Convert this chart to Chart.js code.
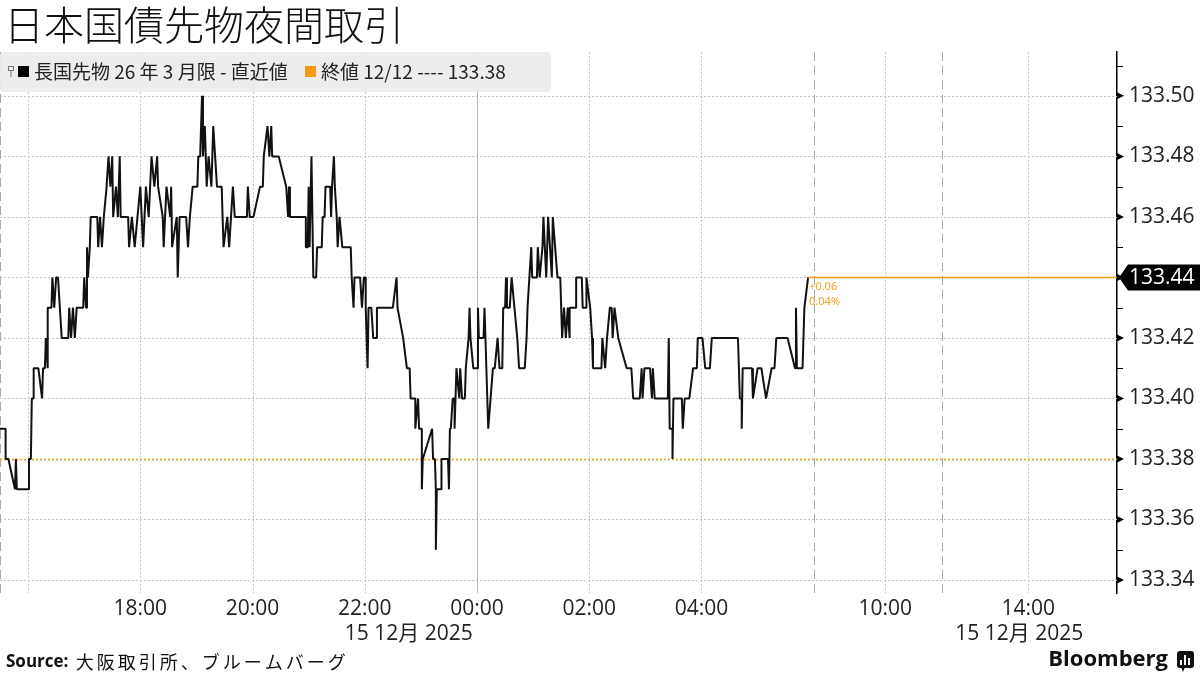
<!DOCTYPE html>
<html><head><meta charset="utf-8">
<script src="https://cdn.jsdelivr.net/npm/chart.js@4.4.1/dist/chart.umd.min.js"></script>
<style>html,body{margin:0;padding:0;background:#fff;}canvas{display:block;}</style>
</head><body>
<canvas id="c" width="1200" height="675" style="width:1200px;height:675px"></canvas>
<script>
// ---- data (minutes since night-session open 15:30, price) ----
const times = [
  0,6,6,9,16,17,18,21,31,31,
  33,34,36,36,41,45,46,48,49,51,
  51,55,56,58,60,62,66,73,74,76,
  78,80,82,89,90,92,93,94,96,97,
  104,105,107,109,111,114,116,118,120,121,
  124,126,128,129,133,137,138,141,144,147,
  150,153,156,159,162,165,168,169,174,175,
  178,182,183,184,189,190,192,196,199,201,
  203,206,211,212,214,216,217,219,221,223,
  226,228,232,237,238,239,243,245,247,249,
  251,264,265,267,271,278,281,282,286,288,
  290,291,298,306,308,309,310,321,
  327,327,329,330,331,333,335,338,339,344,
  345,347,348,353,354,355,357,358,360,361,
  363,366,371,375,376,378,379,385,387,389,
  391,391,393,394,397,399,402,403,420,424,
  425,431,435,438,439,444,444,447,448,451,
  451,452,462,463,465,466,466,467,472,472,
  479,480,481,482,484,486,486,488,491,492,
  494,497,498,501,502,503,506,510,511,512,
  517,518,522,527,529,532,534,537,538,540,
  541,542,545,547,550,553,555,561,563,564,
  568,569,574,575,577,
  580,581,584,586,588,590,591,596,599,600,
  601,603,605,607,609,609,616,616,622,623,
  627,627,631,633,634,643,644,647,649,652,
  654,655,657,661,670,675,677,684,686,687,
  689,695,697,698,700,714,715,716,719,719,
  720,729,730,732,737,741,745,746,751,754,
  759,761,789,790,791,793,793,794,804,805,
  810,814,819,825,828,830,842,850,851,852,
  858,860,864
];
const prices = [
  133.39,133.39,133.38,133.38,133.37,133.38,133.37,133.37,133.37,133.38,
  133.38,133.40,133.40,133.41,133.41,133.40,133.41,133.41,133.42,133.41,
  133.43,133.43,133.44,133.43,133.44,133.44,133.42,133.42,133.43,133.42,
  133.43,133.42,133.43,133.43,133.44,133.43,133.45,133.44,133.45,133.46,
  133.46,133.45,133.46,133.45,133.46,133.47,133.48,133.47,133.48,133.46,
  133.47,133.46,133.48,133.46,133.46,133.46,133.45,133.46,133.45,133.46,
  133.47,133.45,133.47,133.46,133.48,133.47,133.48,133.47,133.46,133.45,
  133.47,133.46,133.47,133.45,133.46,133.44,133.46,133.46,133.46,133.45,
  133.46,133.47,133.47,133.48,133.48,133.50,133.48,133.49,133.47,133.48,
  133.47,133.49,133.47,133.47,133.46,133.45,133.46,133.45,133.46,133.47,
  133.46,133.46,133.47,133.46,133.46,133.47,133.47,133.48,133.49,133.48,
  133.49,133.48,133.48,133.47,133.46,133.47,133.46,133.46,
  133.46,133.45,133.45,133.47,133.45,133.48,133.44,133.44,133.45,133.45,
  133.46,133.46,133.47,133.47,133.46,133.47,133.48,133.47,133.46,133.45,
  133.46,133.45,133.45,133.45,133.44,133.43,133.44,133.44,133.43,133.44,
  133.44,133.43,133.41,133.43,133.43,133.42,133.42,133.43,133.43,133.44,
  133.43,133.42,133.41,133.41,133.40,133.40,133.39,133.40,133.39,133.39,
  133.37,133.38,133.39,133.38,133.38,133.37,133.35,133.37,133.37,133.38,
  133.38,133.37,133.39,133.39,133.40,133.40,133.39,133.41,133.40,133.41,
  133.40,133.40,133.41,133.42,133.43,133.42,133.41,133.41,133.43,133.42,
  133.42,133.43,133.39,133.41,133.41,133.42,133.41,133.41,133.43,133.43,
  133.44,133.43,133.43,133.44,133.43,133.42,133.41,133.41,133.42,133.43,
  133.45,133.44,133.44,133.45,133.44,
  133.45,133.46,133.44,133.46,133.45,133.44,133.46,133.44,133.44,133.43,
  133.42,133.43,133.42,133.43,133.42,133.43,133.43,133.44,133.44,133.43,
  133.43,133.44,133.43,133.42,133.41,133.41,133.42,133.41,133.42,133.43,
  133.43,133.42,133.43,133.42,133.41,133.41,133.40,133.40,133.41,133.40,
  133.41,133.41,133.40,133.41,133.40,133.40,133.42,133.39,133.39,133.38,
  133.40,133.40,133.39,133.40,133.40,133.41,133.41,133.42,133.42,133.41,
  133.41,133.42,133.42,133.41,133.40,133.40,133.39,133.41,133.41,133.40,
  133.41,133.41,133.40,133.41,133.41,133.42,133.42,133.41,133.43,133.41,
  133.41,133.43,133.44
];
const prevClose = 133.38;
const prevCloseDate = '12/12';
const seriesName = '長国先物 26 年 3 月限 - 直近値';

// ---- axis labels ----
const xTickLabels = ['18:00','20:00','22:00','00:00','02:00','04:00','10:00','14:00'];
const xTickSessions = ['night','night','night','night','night','night','day','day'];
const dateLabel = '15 12月 2025';
const dateLabelAt = [['22:47','night'], ['13:45','day']];
const yTicks = [133.34,133.36,133.38,133.40,133.42,133.44,133.46,133.48,133.50];
const yMinorTicks = [133.35,133.37,133.39,133.41,133.43,133.45,133.47,133.49,133.51];
const gridDotted = [['16:00','night'],['18:00','night'],['20:00','night'],['22:00','night'],['02:00','night'],['04:00','night'],['10:00','day'],['14:00','day']];
const gridSolid = [['00:00','night']];
const gridDashed = [['15:30','night'],['06:00','night'],['11:36','day']];

// ---- compressed time axis: night session 15:30-06:00, then day session from 08:00 ----
const DAY_SCALE = 0.637;
function axisPos(hhmm, sess){
  const [h,m] = hhmm.split(':').map(Number);
  const mins = h*60+m;
  if (sess === 'night'){ let d = mins - (15*60+30); if (d < 0) d += 1440; return d; }
  return axisPos('06:00','night') + (mins - 8*60) * DAY_SCALE;
}
const X_MAX = axisPos('16:29','day');
const Y_MIN = 133.3357, Y_MAX = 133.5145;

const ORANGE = '#F39B12';
const NUMFONT = "'Open Sans', 'Noto Sans CJK JP', sans-serif";
const JPFONT = "'Noto Sans CJK JP', 'Open Sans', sans-serif";

const points = times.map((t,i)=>({x:t, y:prices[i]}));

function seg(ctx,x1,y1,x2,y2){ctx.beginPath();ctx.moveTo(x1,y1);ctx.lineTo(x2,y2);ctx.stroke();}

const deco = {
  id:'deco',
  beforeDatasetsDraw(chart){
    const {ctx, chartArea:a, scales:{x,y}} = chart;
    ctx.save();
    ctx.lineWidth = 1;
    ctx.strokeStyle = '#c4c4c4'; ctx.setLineDash([2,2]);
    yTicks.forEach(v=>{const py=Math.round(y.getPixelForValue(v))+0.5; seg(ctx,a.left,py,a.right,py);});
    gridDotted.forEach(([t,s])=>{const px=Math.round(x.getPixelForValue(axisPos(t,s)))+0.5; seg(ctx,px,a.top,px,a.bottom);});
    ctx.setLineDash([]); ctx.strokeStyle='#b5b5b5';
    gridSolid.forEach(([t,s])=>{const px=Math.round(x.getPixelForValue(axisPos(t,s)))+0.5; seg(ctx,px,a.top,px,a.bottom);});
    ctx.setLineDash([9,5]); ctx.strokeStyle='#aaaaaa';
    gridDashed.forEach(([t,s])=>{const px=Math.max(0.5,Math.round(x.getPixelForValue(axisPos(t,s)))+0.5); seg(ctx,px,a.top,px,a.bottom);});
    // previous close dotted line
    ctx.setLineDash([2,2]); ctx.strokeStyle=ORANGE; ctx.lineWidth=1.6;
    const pc = Math.round(y.getPixelForValue(prevClose))+0.5;
    seg(ctx,a.left,pc,a.right,pc);
    ctx.restore();
  },
  afterDatasetsDraw(chart){
    const {ctx, chartArea:a, scales:{x,y}} = chart;
    const last = prices[prices.length-1];
    const lx = x.getPixelForValue(times[times.length-1]);
    const ly = Math.round(y.getPixelForValue(last))+0.5;
    ctx.save();
    ctx.setLineDash([]);
    ctx.strokeStyle=ORANGE; ctx.lineWidth=1.3;
    seg(ctx,lx,ly,a.right,ly);
    const chg = last - prevClose;
    ctx.fillStyle=ORANGE; ctx.font="11px "+NUMFONT; ctx.textBaseline='middle'; ctx.textAlign='left';
    ctx.fillText((chg>=0?'+':'')+chg.toFixed(2), lx+1, ly+9);
    ctx.fillText((chg/prevClose*100).toFixed(2)+'%', lx+1, ly+24);
    ctx.restore();
  },
  afterDraw(chart){
    const {ctx, chartArea:a, scales:{x,y}} = chart;
    ctx.save();
    // y tick marks
    ctx.fillStyle='#000'; ctx.strokeStyle='#000'; ctx.lineWidth=1;
    yTicks.forEach(v=>{const py=y.getPixelForValue(v); ctx.beginPath(); ctx.moveTo(a.right,py-3.5); ctx.lineTo(a.right+7,py); ctx.lineTo(a.right,py+3.5); ctx.closePath(); ctx.fill();});
    yMinorTicks.forEach(v=>{const py=Math.round(y.getPixelForValue(v))+0.5; seg(ctx,a.right,py,a.right+6,py);});
    // last value tag
    const last = prices[prices.length-1];
    const ty = y.getPixelForValue(last);
    ctx.fillStyle='#000';
    ctx.beginPath(); ctx.moveTo(a.right+2,ty); ctx.lineTo(a.right+11,ty-13); ctx.lineTo(1200,ty-13); ctx.lineTo(1200,ty+13); ctx.lineTo(a.right+11,ty+13); ctx.closePath(); ctx.fill();
    ctx.fillStyle='#fff'; ctx.font="21px "+NUMFONT; ctx.textBaseline='middle'; ctx.textAlign='left';
    ctx.fillText(last.toFixed(2), a.right+12, ty+1);
    // date labels
    ctx.fillStyle='#222'; ctx.textAlign='center'; ctx.font="21px "+NUMFONT;
    dateLabelAt.forEach(([t,s])=>ctx.fillText(dateLabel, x.getPixelForValue(axisPos(t,s)), 634));
    // title
    ctx.fillStyle='#111'; ctx.textAlign='left'; ctx.font="300 40px "+JPFONT;
    ctx.fillText('日本国債先物夜間取引', 4, 25);
    // legend box
    ctx.fillStyle='rgba(236,236,236,0.92)';
    ctx.beginPath(); ctx.roundRect(0,52,551,40,4); ctx.fill();
    // small pin icon
    ctx.strokeStyle='#777'; ctx.lineWidth=1;
    ctx.strokeRect(8.5,66.5,5,4); seg(ctx,11,71,11,77);
    ctx.fillStyle='#000'; ctx.fillRect(18,66,11,11);
    ctx.fillStyle='#222'; ctx.font="19px "+JPFONT; ctx.textBaseline='middle';
    ctx.fillText(seriesName, 34, 72);
    ctx.fillStyle=ORANGE; ctx.fillRect(305,66,11,11);
    ctx.fillStyle='#222';
    ctx.fillText('終値 '+prevCloseDate+' ---- '+prevClose.toFixed(2), 321, 72);
    // footer
    ctx.fillStyle='#111'; ctx.font="bold 17px "+NUMFONT;
    ctx.fillText('Source:', 6, 662);
    const sw = ctx.measureText('Source: ').width;
    ctx.font="18px "+JPFONT;
    ctx.letterSpacing = '3px';
    ctx.fillText('大阪取引所、ブルームバーグ', 6+sw+3, 662);
    ctx.letterSpacing = '0px';
    ctx.font="bold 22px "+NUMFONT; ctx.textAlign='right';
    ctx.fillText('Bloomberg', 1168, 660);
    ctx.fillStyle='#111';
    ctx.beginPath(); ctx.roundRect(1177,651,17,17,3); ctx.fill();
    ctx.beginPath(); ctx.moveTo(1181,667); ctx.lineTo(1185,667); ctx.lineTo(1183,672); ctx.closePath(); ctx.fill();
    ctx.fillStyle='#fff';
    ctx.fillRect(1180,660,2,5); ctx.fillRect(1184,655,2,10); ctx.fillRect(1188,658,2,7);
    ctx.restore();
  }
};

new Chart(document.getElementById('c'), {
  type:'line',
  data:{datasets:[{data:points, borderColor:'#111', borderWidth:2, pointRadius:0, tension:0, borderJoinStyle:'bevel', fill:false}]},
  options:{
    responsive:false, animation:false, devicePixelRatio:1,
    layout:{padding:{top:52,left:0,right:0,bottom:0}},
    plugins:{legend:{display:false}, tooltip:{enabled:false}, title:{display:false}},
    scales:{
      x:{type:'linear', min:0, max:X_MAX,
        grid:{display:false, drawTicks:false}, border:{display:false},
        afterBuildTicks(s){ s.ticks = xTickLabels.map((l,i)=>({value:axisPos(l,xTickSessions[i])})); },
        afterFit(s){ s.height = 82; },
        ticks:{autoSkip:false, maxRotation:0, minRotation:0, padding:3, color:'#222',
          font:{family:NUMFONT, size:21}, callback:(v,i)=>xTickLabels[i]}
      },
      y:{type:'linear', position:'right', min:Y_MIN, max:Y_MAX,
        grid:{display:false, drawTicks:false}, border:{display:true, color:'#000', width:1.5},
        afterBuildTicks(s){ s.ticks = yTicks.map(v=>({value:v})); },
        afterFit(s){ s.width = 83; },
        ticks:{padding:12, color:'#222', font:{family:NUMFONT, size:21}, callback:v=>Number(v).toFixed(2)}
      }
    }
  },
  plugins:[deco]
});
</script>
</body></html>
